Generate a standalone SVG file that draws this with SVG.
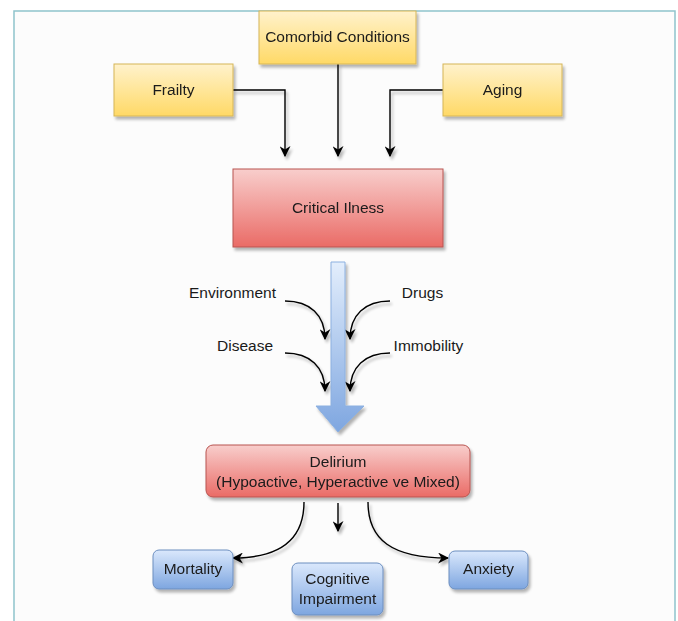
<svg xmlns="http://www.w3.org/2000/svg" width="678" height="621" viewBox="0 0 678 621">
<defs>
<linearGradient id="gy" x1="0" y1="0" x2="0" y2="1"><stop offset="0" stop-color="#fff2cc"/><stop offset="1" stop-color="#ffd966"/></linearGradient>
<linearGradient id="gr" x1="0" y1="0" x2="0" y2="1"><stop offset="0" stop-color="#f8cecc"/><stop offset="1" stop-color="#ea6b66"/></linearGradient>
<linearGradient id="gb" x1="0" y1="0" x2="0" y2="1"><stop offset="0" stop-color="#dae8fc"/><stop offset="1" stop-color="#7ea6e0"/></linearGradient>
<linearGradient id="ga" x1="0" y1="0" x2="0" y2="1"><stop offset="0" stop-color="#e3eefc"/><stop offset="1" stop-color="#7ea6e0"/></linearGradient>
<filter id="sh" x="-20%" y="-20%" width="140%" height="150%"><feGaussianBlur in="SourceAlpha" stdDeviation="1.5"/><feOffset dx="2" dy="3" result="b"/><feComponentTransfer><feFuncA type="linear" slope="0.3"/></feComponentTransfer><feMerge><feMergeNode/><feMergeNode in="SourceGraphic"/></feMerge></filter>
<marker id="ah" viewBox="0 0 10 10" refX="9" refY="5" markerWidth="11" markerHeight="11" markerUnits="userSpaceOnUse" orient="auto"><path d="M0,0 L10,5 L0,10 L3,5 Z" fill="#000"/></marker>
</defs>
<style>
text{font-family:"Liberation Sans",Arial,sans-serif;font-size:15.5px;fill:#1a1a1a;text-anchor:middle}
.y{fill:url(#gy);stroke:#d6b656;stroke-width:1}
.r{fill:url(#gr);stroke:#b85450;stroke-width:1}
.b{fill:url(#gb);stroke:#6c8ebf;stroke-width:1}
.c{fill:none;stroke:#000;stroke-width:1.4;marker-end:url(#ah)}
</style>
<rect x="0" y="0" width="678" height="621" fill="#fff"/>
<rect x="14" y="11" width="661" height="620" fill="#fcfcfc" stroke="#8fc3cc" stroke-width="1.5"/>

<g id="connectors" filter="url(#sh)">
<path class="c" d="M233,90 H285 V156"/>
<path class="c" d="M338,64 V156"/>
<path class="c" d="M443,90 H390 V156"/>
<path class="c" d="M285,301 C310,301 325,315 325,339"/>
<path class="c" d="M390,301 C365,301 350,315 350,339"/>
<path class="c" d="M285,353 C310,353 325,367 325,391"/>
<path class="c" d="M390,353 C365,353 350,367 350,391"/>
<path class="c" d="M304,502 C304,540 280,558 233,558"/>
<path class="c" d="M338,503 V531"/>
<path class="c" d="M368,502 C368,540 392,558 448,558"/>
</g>

<g id="big-arrow" filter="url(#sh)">
<path d="M331,262 H345 V406 H364 L338,432 L316,406 H331 Z" fill="url(#ga)" stroke="#8cb0e0" stroke-width="1"/>
</g>

<g id="comorbid" filter="url(#sh)"><rect class="y" x="259" y="11" width="157" height="53"/><text x="337.5" y="42">Comorbid Conditions</text></g>
<g id="frailty" filter="url(#sh)"><rect class="y" x="114" y="64" width="119" height="52"/><text x="173.5" y="95">Frailty</text></g>
<g id="aging" filter="url(#sh)"><rect class="y" x="443" y="64" width="119" height="52"/><text x="502.5" y="95">Aging</text></g>
<g id="critical" filter="url(#sh)"><rect class="r" x="233" y="169" width="210" height="78"/><text x="338" y="213">Critical Ilness</text></g>

<g id="labels">
<text x="232.5" y="298">Environment</text>
<text x="422.5" y="298">Drugs</text>
<text x="245" y="351">Disease</text>
<text x="428.5" y="351">Immobility</text>
</g>

<g id="delirium" filter="url(#sh)"><rect class="r" x="206" y="445" width="264" height="52" rx="7"/><text x="338" y="467">Delirium</text><text x="338" y="487">(Hypoactive, Hyperactive ve Mixed)</text></g>
<g id="mortality" filter="url(#sh)"><rect class="b" x="153" y="550" width="80" height="39" rx="6"/><text x="193" y="574">Mortality</text></g>
<g id="cognitive" filter="url(#sh)"><rect class="b" x="292" y="563" width="91" height="52" rx="6"/><text x="337.5" y="584">Cognitive</text><text x="337.5" y="604">Impairment</text></g>
<g id="anxiety" filter="url(#sh)"><rect class="b" x="449" y="551" width="79" height="38" rx="6"/><text x="488.5" y="574">Anxiety</text></g>
</svg>
